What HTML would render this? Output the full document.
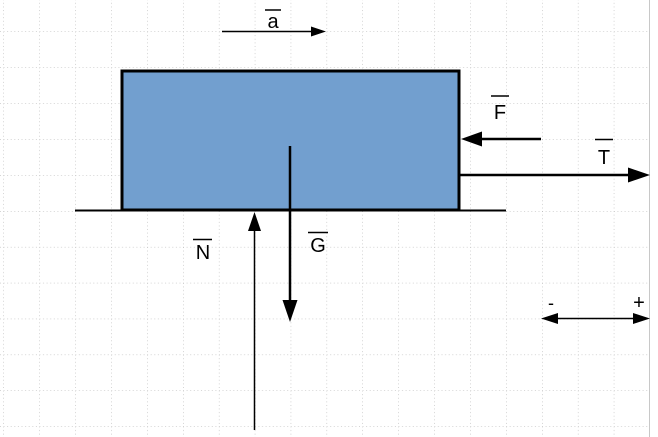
<!DOCTYPE html>
<html><head><style>html,body{margin:0;padding:0;background:#fff}svg{display:block}</style></head>
<body>
<svg width="658" height="437" xmlns="http://www.w3.org/2000/svg" font-family="Liberation Sans, sans-serif">
<defs>
<pattern id="g" x="3.5" y="31.5" width="35.9" height="35.9" patternUnits="userSpaceOnUse">
<path d="M0 0H35.9M0 0V35.9" stroke="#aaa" stroke-width="1" stroke-dasharray="1 2.6" fill="none"/>
</pattern>
</defs>
<rect x="0" y="0" width="649" height="437" fill="url(#g)"/>
<line x1="649.5" y1="0" x2="649.5" y2="437" stroke="#c8c8c8" stroke-width="1"/>
<rect x="122" y="71" width="337" height="139" fill="#729fcf" stroke="#000" stroke-width="3"/>
<line x1="75" y1="210.5" x2="506" y2="210.5" stroke="#000" stroke-width="2"/>
<line x1="222" y1="31.5" x2="312" y2="31.5" stroke="#000" stroke-width="1.5"/>
<polygon points="326,31.5 311,26.5 311,36.5" fill="#000"/>
<line x1="541" y1="139" x2="474" y2="139" stroke="#000" stroke-width="2.5"/>
<polygon points="461,139 482,131.5 482,146.5" fill="#000"/>
<line x1="459" y1="175" x2="630" y2="175" stroke="#000" stroke-width="2.5"/>
<polygon points="650,175 628,167.5 628,182.5" fill="#000"/>
<line x1="290" y1="146" x2="290" y2="305" stroke="#000" stroke-width="2.5"/>
<polygon points="290,322 282.5,300 297.5,300" fill="#000"/>
<line x1="254.5" y1="430" x2="254.5" y2="228" stroke="#000" stroke-width="1.5"/>
<polygon points="254.5,212 248,231 261,231" fill="#000"/>
<line x1="550" y1="318.5" x2="640" y2="318.5" stroke="#000" stroke-width="1.5"/>
<polygon points="541,318.5 558,313 558,324" fill="#000"/>
<polygon points="650,318.5 633,313 633,324" fill="#000"/>
<g font-size="20" fill="#000" text-anchor="middle">
<text x="273" y="28">a</text><line x1="265" y1="10" x2="281" y2="10" stroke="#000" stroke-width="1.5"/>
<text x="500" y="119">F</text><line x1="491" y1="96" x2="509" y2="96" stroke="#000" stroke-width="1.5"/>
<text x="604" y="164">T</text><line x1="595" y1="139.5" x2="613" y2="139.5" stroke="#000" stroke-width="1.5"/>
<text x="203" y="259">N</text><line x1="193" y1="239.5" x2="212" y2="239.5" stroke="#000" stroke-width="1.5"/>
<text x="318" y="252">G</text><line x1="308" y1="232.5" x2="328" y2="232.5" stroke="#000" stroke-width="1.5"/>
<text x="551" y="309" font-size="18">-</text>
<text x="639" y="309" font-size="20">+</text>
</g>
</svg>
</body></html>
